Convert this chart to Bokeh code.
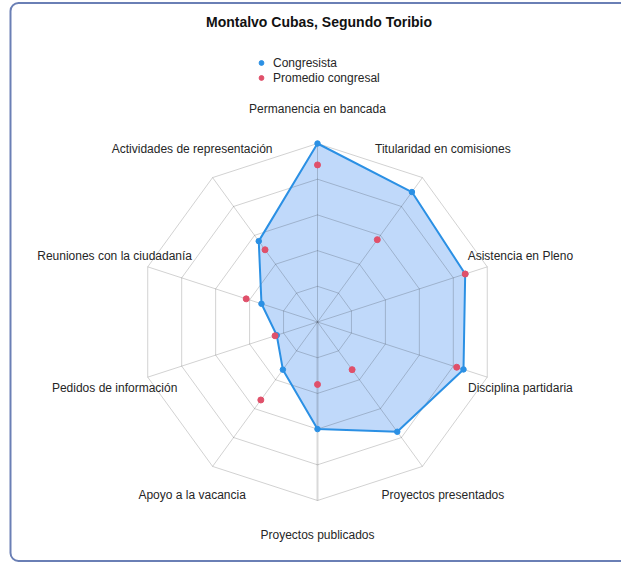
import numpy as np
from bokeh.plotting import figure
from bokeh.models import Range1d, BoxAnnotation, Legend, LegendItem
from bokeh.core.properties import value
from bokeh.embed import file_html
from bokeh.resources import INLINE

# ---------------- data ----------------
chart_title = "Montalvo Cubas, Segundo Toribio"
categories = [
    "Permanencia en bancada",
    "Titularidad en comisiones",
    "Asistencia en Pleno",
    "Disciplina partidaria",
    "Proyectos presentados",
    "Proyectos publicados",
    "Apoyo a la vacancia",
    "Pedidos de información",
    "Reuniones con la ciudadanía",
    "Actividades de representación",
]
congresista = [100, 90, 87, 86, 76, 60, 33, 24, 33, 56]
promedio = [88, 57, 87, 82, 33, 35, 54, 25, 42, 50]
series_names = ["Congresista", "Promedio congresal"]
grid_levels = [20, 40, 60, 80, 100]
max_value = 100

# ---------------- layout ----------------
W, H = 621, 562          # figure size
LEFT, TOP = 0, 0         # page position of the figure
CX, CY = 317, 321.5      # page position of radar centre
RPX = 178.5              # pixels for max_value
FONT = "Liberation Sans"

def dx(px):
    return (px - CX) / RPX

def dy(py):
    return (CY - py) / RPX

p = figure(
    width=W, height=H,
    x_range=Range1d(dx(LEFT), dx(LEFT + W)),
    y_range=Range1d(dy(TOP + H), dy(TOP)),
    output_backend="svg", toolbar_location=None,
    x_axis_type=None, y_axis_type=None,
    min_border=0, outline_line_color=None,
    background_fill_color="white", border_fill_color="white",
)
p.xgrid.visible = False
p.ygrid.visible = False

n = len(categories)
theta = np.arange(n) * 2 * np.pi / n

def polar(vals):
    r = np.asarray(vals, dtype=float) / max_value
    return list(r * np.sin(theta)), list(r * np.cos(theta))

# series fill
bx, by = polar(congresista)
p.patch(bx, by, fill_color="#c0d9fa", line_color=None)

# grid rings and spokes (drawn over the fill, translucent)
k = n // 2
ring_xs, ring_ys = [], []
for lv in grid_levels:
    x, y = polar([lv] * n)
    ring_xs.append(x + [x[0]])
    ring_ys.append(y + [y[0]])
ox, oy = polar([max_value] * n)
for i in range(n):
    if i != k:
        ring_xs.append([0, ox[i]])
        ring_ys.append([0, oy[i]])
p.multi_line(ring_xs, ring_ys, line_color="black", line_alpha=0.18, line_width=1)
# slightly heavier, lighter bottom spoke
p.line([0, ox[k]], [0, oy[k]], line_color="black", line_alpha=0.15, line_width=2)

# series outline + points
p.line(bx + [bx[0]], by + [by[0]], line_color="#2b90e4", line_width=2)
r_blue = p.scatter(bx, by, size=5.5, fill_color="#2b90e4", line_color="#2b90e4")
rx, ry = polar(promedio)
r_red = p.scatter(rx, ry, size=6, fill_color="#e0506a", line_color="#e0506a")

# category labels
lx, ly = polar([max_value * 1.195] * n)
p.text(lx, ly, text=categories, text_align="center", text_baseline="middle",
       text_font=value(FONT), text_font_size="12px", text_color="#262626")

# title
p.text([dx(318.5)], [dy(21)], text=[chart_title], text_align="center",
       text_baseline="middle", text_font=value(FONT), text_font_size="14px",
       text_font_style="bold", text_color="#111111")

# legend
legend = Legend(
    items=[LegendItem(label=series_names[0], renderers=[r_blue]),
           LegendItem(label=series_names[1], renderers=[r_red])],
    location=(255, 477), orientation="vertical",
    glyph_width=12, glyph_height=15, label_height=15, label_standoff=6,
    spacing=0, padding=0, margin=0,
    label_text_font=FONT, label_text_font_size="12px", label_text_color="#262626",
    background_fill_alpha=0, border_line_color=None,
)
p.add_layout(legend, "center")

# rounded frame
p.add_layout(BoxAnnotation(
    left=dx(10), right=dx(700), top=dy(2.5), bottom=dy(560.5),
    fill_color=None, fill_alpha=0, line_color="#6a7fb5", line_alpha=1.0,
    line_width=2, border_radius=8,
))

open("out.html", "w").write(file_html(p, INLINE))
